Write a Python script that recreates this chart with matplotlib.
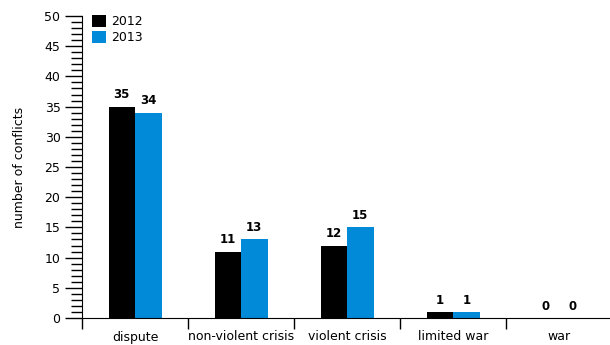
import matplotlib
matplotlib.use("Agg")
import matplotlib.pyplot as plt
import numpy as np
from matplotlib.ticker import MultipleLocator, FixedLocator

categories = ["dispute", "non-violent crisis", "violent crisis", "limited war", "war"]
series_names = ["2012", "2013"]
values_2012 = [35, 11, 12, 1, 0]
values_2013 = [34, 13, 15, 1, 0]
colors = ["#000000", "#008ad8"]

plt.rcParams['font.family'] = ['DejaVu Sans']
fig = plt.figure(figsize=(6.1, 3.45), dpi=100)
ax = fig.add_axes([82/610, 1-318/345, 530/610, (318-16)/345])

x = np.arange(len(categories))
w = 0.25
for i, (vals, name) in enumerate(zip([values_2012, values_2013], series_names)):
    pos = x + (i - 0.5) * w
    ax.bar(pos, vals, width=w, color=colors[i], label=name)
    for p, v in zip(pos, vals):
        ax.text(p, v + 0.9, str(v), ha='center', va='bottom', fontsize=8.5, fontweight='bold')

ax.set_xlim(-0.5, 4.5)
ax.set_ylim(0, 50)
ax.spines['top'].set_visible(False)
ax.spines['right'].set_visible(False)
ax.yaxis.set_major_locator(MultipleLocator(5))
ax.yaxis.set_minor_locator(MultipleLocator(1))
ax.tick_params(axis='y', which='major', length=12, width=1, labelsize=9)
ax.tick_params(axis='y', which='minor', length=8, width=1)
ax.xaxis.set_major_locator(FixedLocator(np.arange(-0.5, 5, 1.0)))
ax.xaxis.set_major_formatter(plt.NullFormatter())
ax.set_xticks(x, minor=True)
ax.set_xticklabels(categories, minor=True, fontsize=9)
ax.tick_params(axis='x', which='major', length=8, width=1)
ax.tick_params(axis='x', which='minor', length=0, pad=9)
ax.set_ylabel("number of conflicts", fontsize=9, labelpad=13)
ax.legend(loc='upper left', bbox_to_anchor=(0.01, 1.02), frameon=False, fontsize=9,
          handlelength=1.1, handleheight=1.1, handletextpad=0.4, labelspacing=0.2, borderaxespad=0)
fig.savefig("out.png", dpi=100)
